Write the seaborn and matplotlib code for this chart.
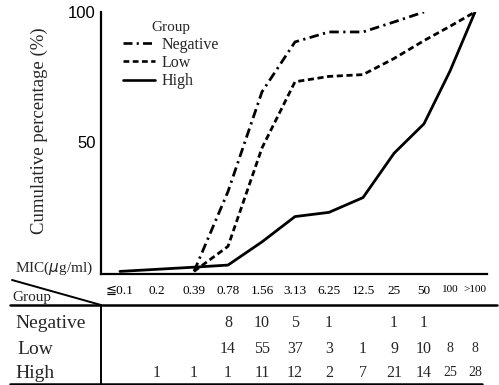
import numpy as np
import pandas as pd
import seaborn as sns
import matplotlib
matplotlib.use("Agg")
import matplotlib.pyplot as plt
from matplotlib.lines import Line2D
from matplotlib import transforms

# MIC classes and number of strains per class in each group
mic_labels = ["≦0.1", "0.2", "0.39", "0.78", "1.56", "3.13", "6.25", "12.5", "25", "50", "100", ">100"]
groups = ["Negative", "Low", "High"]
counts_negative = [0, 0, 0, 8, 10, 5, 1, 0, 1, 1, 0, 0]
counts_low = [0, 0, 0, 14, 55, 37, 3, 1, 9, 10, 8, 8]
counts_high = [0, 1, 1, 1, 11, 12, 2, 7, 21, 14, 25, 28]
# first and last MIC class on each cumulative curve
curve_start = {"Negative": 2, "Low": 2, "High": 0}
curve_end = {"Negative": 9, "Low": 11, "High": 11}

# column centres of the MIC scale / table (layout)
col_centers = [0, 1.088, 2.176, 3.176, 4.176, 5.147, 6.147, 7.147, 8.059, 8.941, 9.706, 10.441]

counts = {"Negative": counts_negative, "Low": counts_low, "High": counts_high}
rows = []
for g in groups:
    c = np.array(counts[g], dtype=float)
    cum = np.cumsum(c) / c.sum() * 100
    for i in range(curve_start[g], curve_end[g] + 1):
        rows.append({"Group": g, "x": col_centers[i], "cum": cum[i]})
df = pd.DataFrame(rows)

sns.set_theme(style="white")
serif = ["Liberation Serif", "DejaVu Serif", "DejaVu Sans", "Noto Sans CJK JP"]
plt.rcParams["font.family"] = serif

W, H = 499, 385
fig = plt.figure(figsize=(W / 100, H / 100), dpi=100)

def fx(px):
    return px / W

def fy(py):
    return 1 - py / H

ax = fig.add_axes([fx(101), fy(274), fx(487) - fx(101), fy(12) - fy(274)])

dashes = {"Negative": (3.4, 1.6, 0.8, 1.6), "Low": (2.2, 1.3), "High": ""}
sns.lineplot(data=df, x="x", y="cum", style="Group", style_order=groups,
             dashes=dashes, color="black", linewidth=2.0, ax=ax,
             estimator=None, sort=True, legend=True)

ax.set_xlim(-0.559, 10.794)
ax.set_ylim(-1, 100)
for s in ["top", "right"]:
    ax.spines[s].set_visible(False)
for s in ["left", "bottom"]:
    ax.spines[s].set_color("black")
    ax.spines[s].set_linewidth(1.6)

ax.set_yticks([50, 100])
ax.set_yticklabels(["50", "100"], fontfamily=["Liberation Sans", "DejaVu Sans"], fontsize=12)
ax.tick_params(axis="y", direction="inout", length=8, width=1.3, pad=0, colors="black")

ax.set_xticks(col_centers)
ax.set_xticklabels(mic_labels, fontsize=9.5, fontfamily=serif)
for lab in ax.get_xticklabels()[-2:]:
    lab.set_fontsize(8)
ax.tick_params(axis="x", direction="in", length=6, width=1.2, pad=8, colors="black")

ax.set_xlabel("")
ax.set_ylabel("Cumulative percentage (%)", fontsize=13.5, fontfamily=serif)
ax.yaxis.set_label_coords(-0.137, 0.546)

handles, labels = ax.get_legend_handles_labels()
for h in handles:
    h.set_linewidth(1.9)
leg = ax.legend(handles, labels, title="Group", loc="upper left",
                bbox_to_anchor=(0.02, 1.02), frameon=False,
                handlelength=2.0, handletextpad=0.4, labelspacing=0.15,
                prop={"family": serif, "size": 11.5},
                title_fontproperties={"family": serif, "size": 11})

# table beneath the MIC scale
fig.text(fx(15), fy(268), "MIC($\\mu$g/ml)", fontsize=11, va="center", ha="left")
fig.text(fx(12), fy(297), "Group", fontsize=11, va="center", ha="left")

line_kw = dict(transform=fig.transFigure, color="black", linewidth=1.4)
fig.add_artist(Line2D([fx(12), fx(101)], [fy(280), fy(305)], **line_kw))
fig.add_artist(Line2D([fx(10), fx(497)], [fy(305), fy(305)], **dict(line_kw, linewidth=1.8)))
fig.add_artist(Line2D([fx(101), fx(101)], [fy(305), fy(385)], **line_kw))
fig.add_artist(Line2D([fx(10), fx(482)], [fy(384), fy(384)], **dict(line_kw, linewidth=1.8)))

row_y = {"Negative": 323, "Low": 349, "High": 373}
row_label_x = {"Negative": 15, "Low": 17, "High": 15}
blend = transforms.blended_transform_factory(ax.transData, fig.transFigure)
for g in groups:
    fig.text(fx(row_label_x[g]), fy(row_y[g]), g, fontsize=14, va="center", ha="left")
    for i, n in enumerate(counts[g]):
        if n:
            ax.text(col_centers[i], fy(row_y[g]), str(n), transform=blend,
                    fontsize=11.5 if i < 10 else 10, ha="center", va="center",
                    clip_on=False)

fig.savefig("out.png", dpi=100)
